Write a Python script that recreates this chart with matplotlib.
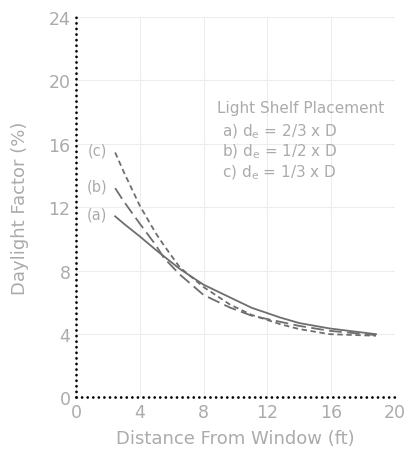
import numpy as np
import matplotlib
matplotlib.use('Agg')
import matplotlib.pyplot as plt

plt.rcParams['font.family'] = ['DejaVu Sans']
plt.rcParams['mathtext.default'] = 'regular'

# Distancia desde la ventana (ft) y factor de luz diurna (%)
dist = [2.45, 3.0, 4.0, 5.0, 5.5, 6.5, 8.0, 9.65, 11.0, 12.8, 14.0, 15.9, 18.8]
df_a = [11.42, 10.95, 10.15, 9.3, 8.9, 8.1, 7.1, 6.3, 5.65, 5.03, 4.68, 4.34, 3.98]
df_b = [13.2, 12.35, 10.95, 9.6, 8.8, 7.75, 6.45, 5.66, 5.15, 4.76, 4.5, 4.19, 3.92]
df_c = [15.45, 14.2, 12.08, 10.35, 9.6, 8.2, 6.95, 5.85, 5.2, 4.61, 4.3, 3.98, 3.88]

etiquetas = ['(a)', '(b)', '(c)']
leyenda = ['a) d$_e$ = 2/3 x D', 'b) d$_e$ = 1/2 x D', 'c) d$_e$ = 1/3 x D']
xticks = [0, 4, 8, 12, 16, 20]
yticks = [0, 4, 8, 12, 16, 20, 24]

gris_txt = '#ababab'
gris_lin = '#6e6e6e'

fig = plt.figure(figsize=(4.09, 4.52), dpi=100)
ax = fig.add_axes([0.186, 0.119, 0.78, 0.841])

ax.plot(dist, df_a, color=gris_lin, lw=1.3, ls='-')
ax.plot(dist, df_b, color=gris_lin, lw=1.3, ls=(0, (7, 3)))
ax.plot(dist, df_c, color=gris_lin, lw=1.3, ls=(0, (3, 2)))

# etiquetas de las curvas
for lab, serie in zip(etiquetas, [df_a, df_b, df_c]):
    ax.text(dist[0] - 0.5, serie[0] + 0.15, lab, color=gris_txt, fontsize=10.5,
            ha='right', va='center')

# texto de la leyenda
ax.text(8.85, 18.3, 'Light Shelf Placement', color=gris_txt, fontsize=11,
        va='center')
for i, t in enumerate(leyenda):
    ax.text(9.15, 16.85 - 1.32 * i, t, color=gris_txt, fontsize=11, va='center')

ax.set_xlim(0, 20)
ax.set_ylim(0, 24)
ax.set_xticks(xticks)
ax.set_yticks(yticks)
ax.tick_params(length=0, labelsize=12.5, labelcolor=gris_txt, pad=4)
ax.grid(True, color='#ededed', lw=0.8)
ax.set_axisbelow(True)

for s in ['top', 'right']:
    ax.spines[s].set_visible(False)
for s in ['left', 'bottom']:
    ax.spines[s].set_linewidth(2.0)
    ax.spines[s].set_linestyle((0, (0.01, 2.0)))
    ax.spines[s].set_capstyle('round')
    ax.spines[s].set_color('black')

ax.set_xlabel('Distance From Window (ft)', color=gris_txt, fontsize=13, labelpad=6)
ax.set_ylabel('Daylight Factor (%)', color=gris_txt, fontsize=13, labelpad=14)

fig.savefig('out.png', dpi=100)
